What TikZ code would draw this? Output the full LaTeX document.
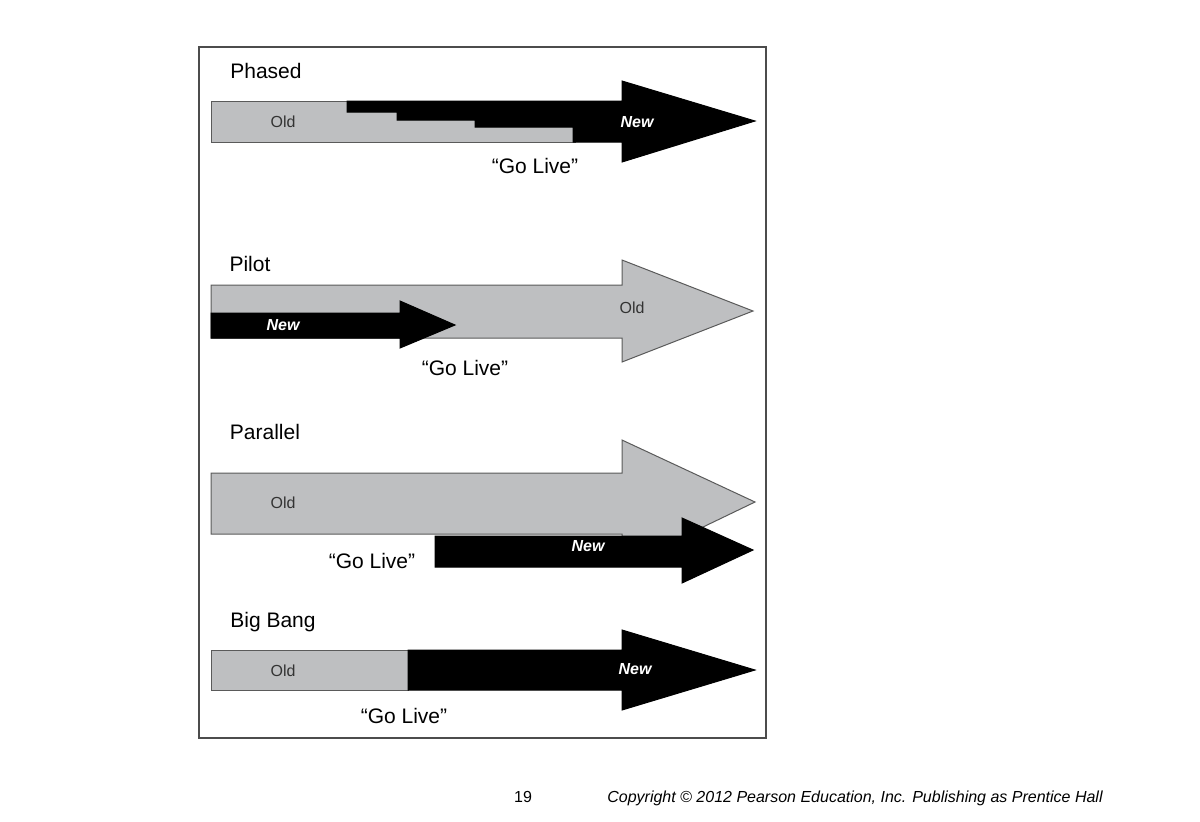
\documentclass[tikz,border=0pt]{standalone}
\usepackage{fontspec}
\setmainfont{Liberation Sans}
\definecolor{oldgray}{RGB}{190,191,193}
\definecolor{edgegray}{RGB}{90,90,90}
\begin{document}
\begin{tikzpicture}
% style
	[x=0.5pt, y=-0.5pt,
	old/.style={fill=oldgray, draw=edgegray, line width=0.5pt},
	new/.style={fill=black, draw=black, line width=0.5pt},
	title/.style={font=\fontsize{10.5}{12}\selectfont},
	small/.style={font=\fontsize{8}{9}\selectfont, text=black!80},
	newlabel/.style={font=\fontsize{8}{9}\selectfont\bfseries\itshape, text=white},
	golive/.style={font=\fontsize{10.5}{12}\selectfont}]
	\useasboundingbox (0,0) rectangle (1200,821);
	\draw[line width=1pt, black!70] (199,47) rectangle (766,738);

	% phased
	\node [title] (phasedT) at (266,71) {Phased};
	\draw [old] (211,101) rectangle (575,142);
	\draw [new] (347,101) -- (622,101) -- (622,81) -- (755,121) -- (622,162) -- (622,142)
	      -- (573,142) -- (573,127) -- (475,127) -- (475,120) -- (397,120) -- (397,112) -- (347,112) -- cycle;
	\node [small] (phasedOld) at (283,122) {Old};
	\node [newlabel] (phasedNew) at (637,122) {New};
	\node [golive] (phasedGo) at (535,166) {“Go Live”};

	% pilot
	\node [title] (pilotT) at (250,264) {Pilot};
	\draw [old] (211,285) -- (622,285) -- (622,260) -- (753,311) -- (622,362) -- (622,338) -- (211,338) -- cycle;
	\draw [new] (211,313) -- (400,313) -- (400,301) -- (455,325) -- (400,348) -- (400,338) -- (211,338) -- cycle;
	\node [small] (pilotOld) at (632,308) {Old};
	\node [newlabel] (pilotNew) at (283,325) {New};
	\node [golive] (pilotGo) at (465,368) {“Go Live”};

	% parallel
	\node [title] (parallelT) at (265,432) {Parallel};
	\draw [old] (211,473) -- (622,473) -- (622,440) -- (755,502) -- (622,566) -- (622,534) -- (211,534) -- cycle;
	\draw [new] (435,536) -- (682,536) -- (682,518) -- (753,550) -- (682,583) -- (682,567) -- (435,567) -- cycle;
	\node [small] (parallelOld) at (283,503) {Old};
	\node [newlabel] (parallelNew) at (588,546) {New};
	\node [golive] (parallelGo) at (372,561) {“Go Live”};

	% big bang
	\node [title] (bangT) at (273,622) {Big Bang};
	\draw [old] (211,650) rectangle (408,690);
	\draw [new] (408,650) -- (622,650) -- (622,630) -- (755,670) -- (622,710) -- (622,690) -- (408,690) -- cycle;
	\node [small] (bangOld) at (283,671) {Old};
	\node [newlabel] (bangNew) at (635,669) {New};
	\node [golive] (bangGo) at (404,716) {“Go Live”};

	% footer
	\node [font=\fontsize{8}{9}\selectfont] (page) at (523,797) {19};
	\node [font=\fontsize{8}{9}\selectfont\itshape] (copy) at (855,798) {Copyright © 2012 Pearson Education, Inc. Publishing as Prentice Hall};
\end{tikzpicture}
\end{document}
